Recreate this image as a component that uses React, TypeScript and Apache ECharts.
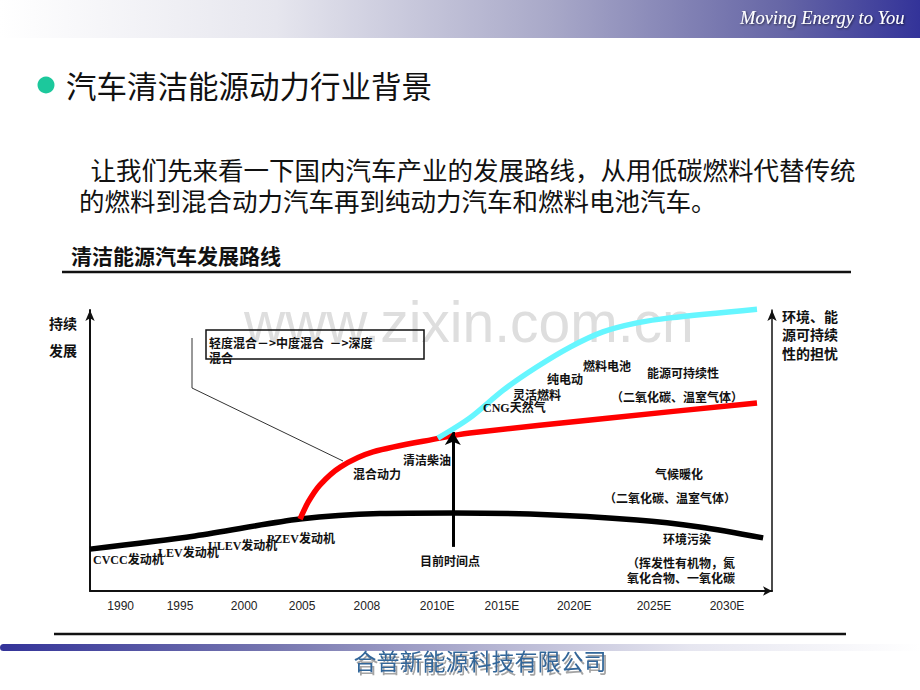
import React, { useEffect, useRef } from "react";
import * as echarts from "echarts";

// ---- data ----
const xLabels = ["1990", "1995", "2000", "2005", "2008", "2010E", "2015E", "2020E", "2025E", "2030E"];
const xTickPos = [4.5, 13.2, 22.6, 31.1, 40.6, 50.9, 60.4, 71.0, 82.7, 93.4];

const blackX = [0, 15.4, 30.8, 42.5, 53.2, 64.5, 80.2, 89.4, 98.7];
const blackY = [14.9, 19.6, 25.6, 27.6, 27.8, 27.4, 25.3, 22.8, 18.9];

const redX = [30.8, 32.0, 33.7, 36.7, 41.5, 51.3, 55.7, 76.2, 97.8];
const redY = [25.6, 31.7, 37.7, 44.1, 49.5, 54.4, 56.2, 61.6, 66.9];

const cyanX = [51.0, 55.7, 60.6, 65.5, 70.4, 75.2, 80.2, 85.0, 97.8];
const cyanY = [54.4, 61.6, 71.5, 79.7, 86.8, 92.2, 95.4, 97.2, 100.3];

const nowX = 53.2;
const nowArrow = [15.7, 56.6];

const zip = (xs: number[], ys: number[]) => xs.map((x, i) => [x, ys[i]]);

const CJK = '"Noto Sans CJK SC", "Noto Sans", sans-serif';
const SERIF_CJK = '"Liberation Serif", "Noto Sans CJK SC", serif';

type Lbl = [string, number, number];
const chartLabels: Lbl[] = [
  ["燃料电池", 583, 365],
  ["能源可持续性", 647, 372],
  ["纯电动", 547, 378],
  ["灵活燃料", 513, 394],
  ["（二氧化碳、温室气体）", 611, 396],
  ["清洁柴油", 403, 459],
  ["混合动力", 353, 473],
  ["气候暖化", 655, 473],
  ["（二氧化碳、温室气体）", 604, 497],
  ["环境污染", 663, 538],
  ["目前时间点", 420, 560],
];
const serifLabels: Lbl[] = [
  ["CNG天然气", 483, 408],
  ["CVCC发动机", 93, 560],
  ["LEV发动机", 158, 553],
  ["ULEV发动机", 208, 546],
  ["PZEV发动机", 267, 539],
];

function txt(text: string, x: number, y: number, font: string, fill = "#111", extra: any = {}, z = 100) {
  return {
    type: "text",
    x,
    y,
    z,
    silent: true,
    style: {
      text,
      font,
      fill,
      textAlign: "left",
      align: "left",
      textVerticalAlign: "middle",
      verticalAlign: "middle",
      ...extra,
    },
  };
}

export default function App() {
  const ref = useRef<HTMLDivElement>(null);
  useEffect(() => {
    document.body.style.margin = "0";
    const chart = echarts.init(ref.current!, null, { renderer: "svg" });

    const graphics: any[] = [
      // top banner
      {
        type: "rect",
        z: 0,
        silent: true,
        shape: { x: 0, y: 0, width: 920, height: 38 },
        style: {
          fill: new echarts.graphic.LinearGradient(0, 0, 1, 0, [
            { offset: 0, color: "#ffffff" },
            { offset: 0.3, color: "#e6e6ee" },
            { offset: 0.6, color: "#a8a8c8" },
            { offset: 0.85, color: "#6666a6" },
            { offset: 1, color: "#333399" },
          ]),
        },
      },
      txt("Moving Energy to You", 740, 18, 'italic 18.5px "Liberation Serif", serif', "#ffffff", {
        textShadowColor: "rgba(0,0,0,0.6)",
        textShadowBlur: 2,
        textShadowOffsetX: 1,
        textShadowOffsetY: 1,
      }),
      // title
      { type: "circle", z: 10, silent: true, shape: { cx: 46, cy: 85, r: 8.5 }, style: { fill: "#1cc89c" } },
      txt("汽车清洁能源动力行业背景", 66, 85, `30.5px ${CJK}`, "#111"),
      txt(
        "  让我们先来看一下国内汽车产业的发展路线，从用低碳燃料代替传统\n的燃料到混合动力汽车再到纯动力汽车和燃料电池汽车。",
        79,
        184,
        `25.5px ${CJK}`,
        "#111",
        { lineHeight: 31 }
      ),
      txt("清洁能源汽车发展路线", 71, 255, `bold 21px ${CJK}`, "#111"),
      { type: "line", z: 10, silent: true, shape: { x1: 62, y1: 272, x2: 851, y2: 272 }, style: { stroke: "#111", lineWidth: 2.5 } },
      // watermark
      txt("www.zixin.com.cn", 244, 322, '57px "Liberation Sans", Arial, sans-serif', "#dedede", {}, 0),
      // axis captions
      txt("持续\n发展", 49, 336, `bold 14px ${CJK}`, "#111", { lineHeight: 27 }),
      txt("环境、能\n源可持续\n性的担忧", 782, 334, `bold 14px ${CJK}`, "#111", { lineHeight: 18.5 }),
      // hybrid box
      { type: "rect", z: 50, silent: true, shape: { x: 206, y: 330, width: 218, height: 29 }, style: { fill: "none", stroke: "#111", lineWidth: 1.5 } },
      txt("轻度混合－>中度混合  －>深度\n混合", 209, 350, `bold 12px ${CJK}`, "#111", { lineHeight: 15 }),
      {
        type: "polyline",
        z: 50,
        silent: true,
        shape: { points: [[192, 338], [192, 388], [343, 461]] },
        style: { stroke: "#333", lineWidth: 1, fill: null },
      },
      txt("（挥发性有机物，氮\n氧化合物、一氧化碳", 627, 569.5, `bold 12px ${CJK}`, "#111", { lineHeight: 15 }),
      // footer
      { type: "line", z: 10, silent: true, shape: { x1: 54, y1: 634, x2: 846, y2: 634 }, style: { stroke: "#111", lineWidth: 2.5 } },
      {
        type: "rect",
        z: 5,
        silent: true,
        shape: { x: 0, y: 644, width: 920, height: 7, r: [3.5, 0, 0, 3.5] },
        style: {
          fill: new echarts.graphic.LinearGradient(0, 0, 1, 0, [
            { offset: 0, color: "#333399" },
            { offset: 0.3, color: "#7777b0" },
            { offset: 0.55, color: "#b8b8d4" },
            { offset: 0.75, color: "#e6e6f0" },
            { offset: 1, color: "#ffffff" },
          ]),
        },
      },
      txt("合普新能源科技有限公司", 480, 660, `23px ${CJK}`, "#336699", {
        textShadowColor: "rgba(90,90,90,0.55)",
        textShadowBlur: 1,
        textShadowOffsetX: 2,
        textShadowOffsetY: 3,
        textAlign: "center",
        align: "center",
      }),
    ];
    chartLabels.forEach(([t, x, y]) => graphics.push(txt(t, x, y, `bold 12px ${CJK}`)));
    serifLabels.forEach(([t, x, y]) => graphics.push(txt(t, x, y, `bold 12px ${SERIF_CJK}`)));

    const lineBase = {
      type: "line",
      smooth: 0.3,
      showSymbol: false,
      clip: false,
    };

    chart.setOption({
      animation: false,
      grid: { left: 90, right: 148, top: 310, bottom: 99 },
      xAxis: {
        type: "value",
        min: 0,
        max: 100,
        splitLine: { show: false },
        axisTick: { show: false },
        axisLine: {
          show: true,
          onZero: false,
          symbol: ["none", "arrow"],
          symbolSize: [7, 9],
          lineStyle: { color: "#111", width: 2 },
        },
        axisLabel: {
          customValues: xTickPos,
          formatter: (v: number) => {
            const i = xTickPos.findIndex((p) => Math.abs(p - v) < 1e-6);
            return i >= 0 ? xLabels[i] : "";
          },
          color: "#222",
          fontSize: 12,
          fontFamily: '"Liberation Sans", Arial, sans-serif',
          margin: 9,
        },
      },
      yAxis: [
        {
          type: "value",
          min: 0,
          max: 100,
          position: "left",
          splitLine: { show: false },
          axisTick: { show: false },
          axisLabel: { show: false },
          axisLine: {
            show: true,
            onZero: false,
            symbol: ["none", "arrow"],
            symbolSize: [7, 11],
            lineStyle: { color: "#111", width: 2 },
          },
        },
        {
          type: "value",
          min: 0,
          max: 100,
          position: "right",
          splitLine: { show: false },
          axisTick: { show: false },
          axisLabel: { show: false },
          axisLine: {
            show: true,
            onZero: false,
            symbol: ["none", "arrow"],
            symbolSize: [7, 11],
            lineStyle: { color: "#111", width: 1.5 },
          },
        },
      ],
      series: [
        {
          ...lineBase,
          name: "传统动力",
          z: 3,
          lineStyle: { color: "#000000", width: 5.5 },
          data: zip(blackX, blackY),
        },
        {
          ...lineBase,
          name: "混合动力",
          z: 4,
          lineStyle: { color: "#ff0000", width: 5.5 },
          data: zip(redX, redY),
        },
        {
          ...lineBase,
          name: "纯电动/燃料电池",
          z: 5,
          lineStyle: { color: "#66f6ff", width: 5.5 },
          data: zip(cyanX, cyanY),
          markLine: {
            silent: true,
            symbol: ["none", "arrow"],
            symbolSize: [12, 13],
            label: { show: false },
            lineStyle: { color: "#000", width: 3, type: "solid" },
            data: [[{ coord: [nowX, nowArrow[0]] }, { coord: [nowX, nowArrow[1]] }]],
          },
        },
      ],
      graphic: graphics,
    });
    return () => chart.dispose();
  }, []);
  return <div ref={ref} style={{ position: "fixed", left: 0, top: 0, width: 920, height: 690, background: "#fff" }} />;
}
